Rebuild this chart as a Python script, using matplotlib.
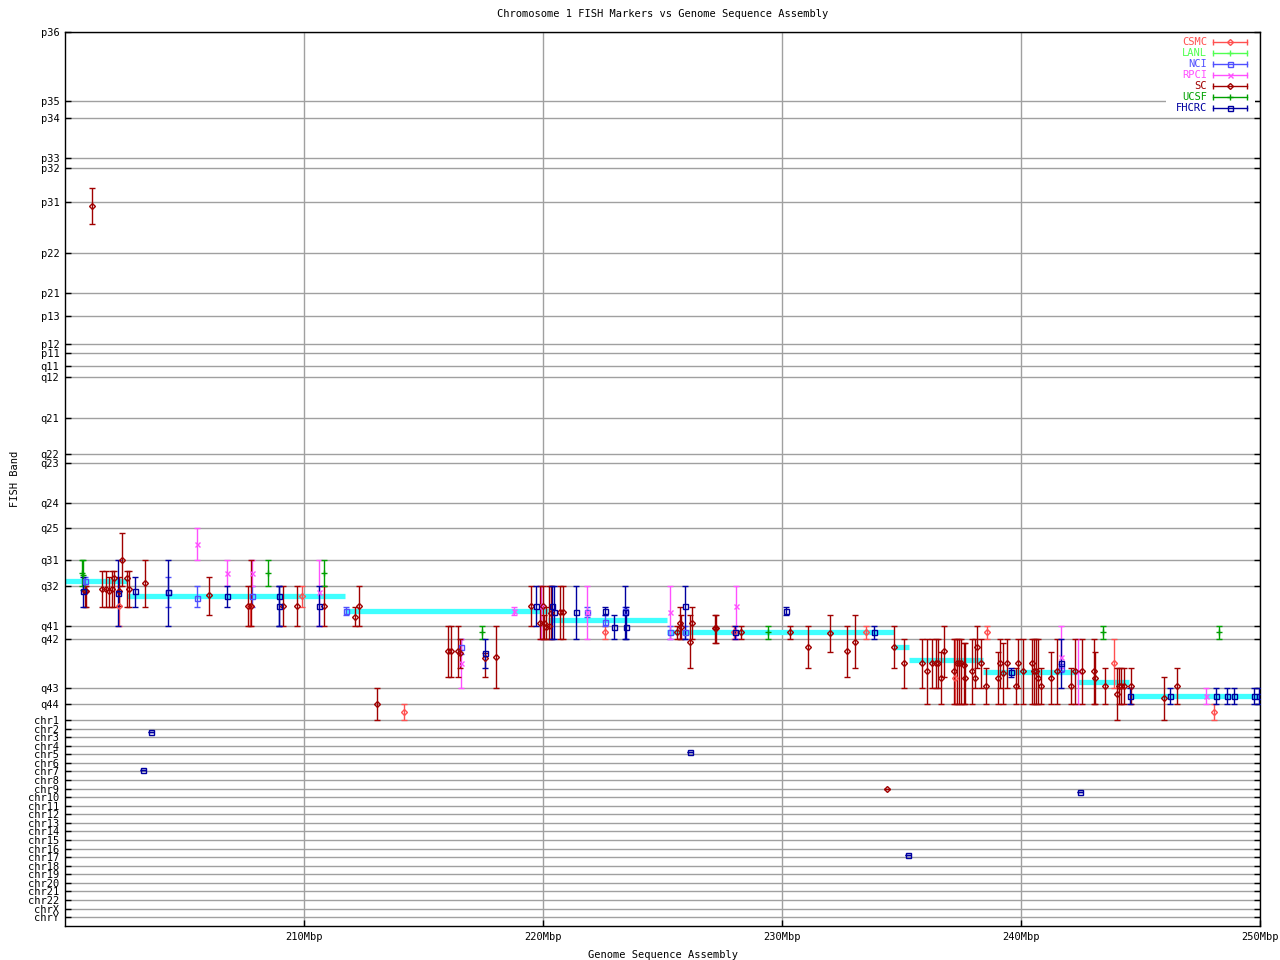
import matplotlib
matplotlib.use("Agg")
import matplotlib.pyplot as plt
import numpy as np
from matplotlib.patches import Rectangle

plt.rcParams["font.family"] = ["DejaVu Sans Mono"]

# FISH band axis (ideogram position of each band, chart scale)
band_labels = ["p36", "p35", "p34", "p33", "p32", "p31", "p22", "p21", "p13", "p12",
               "p11", "q11", "q12", "q21", "q22", "q23", "q24", "q25", "q31", "q32",
               "q41", "q42", "q43", "q44"]
band_pos = [32, 101, 118, 158, 168, 202, 253, 293, 316, 344,
            353, 366, 377, 418, 454, 463, 503, 528, 560, 586,
            626, 639, 688, 704]
chr_labels = ["chr1", "chr2", "chr3", "chr4", "chr5", "chr6", "chr7", "chr8", "chr9",
              "chr10", "chr11", "chr12", "chr13", "chr14", "chr15", "chr16", "chr17",
              "chr18", "chr19", "chr20", "chr21", "chr22", "chrX", "chrY"]
chr_pos = [720, 729, 737, 746, 754, 763, 771, 780, 789, 797, 806, 814,
           823, 831, 840, 849, 857, 866, 874, 883, 891, 900, 909, 917]

x_ticks = [210, 220, 230, 240, 250]

# sequence assembly band assignment (cyan steps)
cyan_start = [200.0, 202.6, 211.7, 220.2, 225.2, 234.7, 235.3, 238.4, 242.35, 244.5]
cyan_end = [202.6, 211.7, 220.2, 225.2, 234.7, 235.3, 238.4, 242.35, 244.5, 250.0]
cyan_band = [581, 596, 611, 620, 632, 647, 660, 672, 682, 696]

# markers per lab: (Mbp, band centre, band low, band high)
csmc = [(202.26, 606, 586, 626), (207.72, 606, 606, 626), (209.91, 596, 586, 607),
        (214.17, 712, 704, 720), (222.58, 632, 626, 639), (227.97, 632, 626, 639),
        (233.53, 632, 626, 639), (237.25, 678, 639, 704), (238.59, 632, 626, 639),
        (243.88, 663, 639, 688), (248.08, 712, 704, 720)]
lanl = []
nci = [(200.84, 581, 577, 586), (204.31, 592, 577, 607), (205.52, 598, 586, 607),
       (207.82, 596, 586, 607), (211.75, 611, 607, 615), (216.56, 647, 639, 654),
       (221.82, 612, 607, 617), (222.58, 622, 615, 626), (223.45, 611, 607, 615),
       (225.33, 632, 626, 639), (225.96, 632, 626, 639), (241.68, 668, 664, 672)]
rpci = [(205.52, 544, 528, 560), (206.77, 573, 560, 586), (207.82, 573, 560, 586),
        (210.62, 592, 560, 626), (218.77, 611, 607, 615), (216.56, 663, 639, 688),
        (219.90, 606, 586, 639), (221.82, 612, 586, 639), (225.33, 612, 586, 639),
        (228.09, 606, 586, 639), (241.68, 657, 626, 668), (242.39, 671, 639, 704),
        (247.74, 696, 688, 704)]
sc = [(201.13, 206, 188, 224), (200.84, 591, 586, 607), (200.88, 591, 586, 607),
      (201.55, 589, 571, 607), (201.71, 589, 571, 607), (201.84, 591, 577, 607),
      (201.96, 589, 571, 607), (202.05, 578, 571, 607), (202.26, 591, 577, 606),
      (202.38, 560, 533, 586), (202.59, 578, 571, 607), (202.68, 589, 571, 607),
      (203.34, 583, 560, 607), (206.02, 595, 577, 615), (207.78, 606, 560, 626),
      (207.65, 606, 586, 626), (209.11, 606, 586, 626), (209.70, 606, 586, 626),
      (210.83, 606, 586, 626), (212.12, 617, 607, 626), (212.29, 606, 586, 626),
      (213.04, 704, 688, 720), (216.01, 651, 626, 677), (216.14, 651, 626, 677),
      (216.43, 651, 626, 677), (216.51, 653, 639, 668), (217.56, 658, 653, 677),
      (218.02, 657, 626, 688), (219.48, 606, 586, 626), (219.86, 623, 586, 639),
      (219.98, 606, 586, 639), (220.03, 623, 615, 639), (220.11, 627, 607, 639),
      (220.23, 626, 586, 639), (220.32, 613, 586, 639), (220.69, 612, 586, 639),
      (220.82, 612, 586, 639), (225.59, 632, 626, 639), (225.75, 623, 607, 639),
      (225.79, 627, 615, 639), (226.13, 642, 615, 668), (226.25, 623, 607, 639),
      (227.18, 628, 615, 643), (227.24, 628, 615, 643), (228.30, 632, 626, 639),
      (230.35, 632, 626, 639), (231.10, 647, 626, 668), (232.02, 633, 615, 652),
      (232.73, 651, 626, 677), (233.07, 642, 615, 668), (234.41, 789, 789, 789),
      (234.70, 647, 626, 668), (235.12, 663, 639, 688), (235.87, 663, 639, 688),
      (236.08, 671, 639, 704), (236.29, 663, 639, 688), (236.45, 663, 639, 688),
      (236.54, 663, 639, 688), (236.66, 678, 652, 704), (236.79, 651, 626, 677),
      (237.21, 671, 639, 704), (237.33, 663, 639, 704), (237.42, 663, 639, 704),
      (237.50, 663, 639, 704), (237.63, 665, 643, 704), (237.66, 678, 643, 704),
      (237.96, 671, 639, 704), (238.09, 678, 639, 688), (238.17, 647, 626, 668),
      (238.34, 663, 639, 688), (238.55, 686, 668, 704), (239.05, 678, 652, 704),
      (239.13, 663, 639, 688), (239.26, 673, 643, 704), (239.42, 663, 639, 688),
      (239.80, 686, 668, 704), (239.88, 663, 639, 688), (240.09, 671, 639, 704),
      (240.47, 663, 639, 704), (240.55, 671, 639, 704), (240.64, 671, 639, 704),
      (240.72, 678, 639, 704), (240.84, 686, 668, 704), (241.26, 678, 652, 704),
      (241.51, 671, 639, 704), (242.10, 686, 668, 704), (242.27, 671, 639, 704),
      (242.56, 671, 639, 704), (243.06, 671, 639, 704), (243.10, 678, 652, 704),
      (243.52, 686, 668, 704), (244.02, 694, 668, 720), (244.10, 686, 668, 704),
      (244.19, 686, 668, 704), (244.31, 686, 668, 704), (244.61, 686, 668, 704),
      (245.99, 698, 677, 720), (246.53, 686, 668, 704)]
ucsf = [(200.71, 573, 560, 586), (200.75, 575, 560, 590), (208.49, 573, 560, 586),
        (210.83, 573, 560, 586), (217.43, 632, 626, 639), (229.43, 632, 626, 639),
        (243.44, 632, 626, 639), (248.29, 632, 626, 639)]
fhcrc = [(200.75, 591, 577, 607), (202.22, 593, 560, 626), (202.93, 591, 577, 607),
         (204.31, 592, 560, 626), (206.77, 596, 586, 607), (208.95, 596, 586, 626),
         (208.95, 606, 586, 626), (210.62, 606, 586, 626), (217.56, 653, 639, 668),
         (219.69, 606, 586, 626), (220.36, 606, 586, 639), (220.44, 612, 586, 639),
         (221.36, 612, 586, 639), (222.58, 611, 607, 615), (222.99, 627, 615, 639),
         (223.45, 612, 586, 639), (223.49, 627, 607, 639), (225.96, 606, 586, 639),
         (228.05, 632, 626, 639), (230.18, 611, 607, 615), (233.86, 632, 626, 639),
         (239.59, 672, 668, 677), (241.68, 663, 639, 688), (244.56, 696, 688, 704),
         (246.24, 696, 688, 704), (248.16, 696, 688, 704), (248.62, 696, 688, 704),
         (248.91, 696, 688, 704), (249.75, 696, 688, 704), (249.96, 696, 688, 704),
         (203.60, 732, 732, 732), (203.26, 770, 770, 770), (226.17, 752, 752, 752),
         (242.47, 792, 792, 792), (235.28, 855, 855, 855)]

labs = ["CSMC", "LANL", "NCI", "RPCI", "SC", "UCSF", "FHCRC"]
lab_data = [csmc, lanl, nci, rpci, sc, ucsf, fhcrc]
lab_colors = ["#ff5050", "#50ff50", "#5050ff", "#ff50ff", "#a00000", "#00a000", "#0000a0"]
lab_markers = ["D", "+", "s", "x", "D", "+", "s"]
lab_msize = [3.0, 4.0, 3.6, 3.6, 3.0, 4.0, 3.6]

fig = plt.figure(figsize=(12.8, 9.6), dpi=100)
ax = fig.add_axes([0.0508, 0.0354, 0.9336, 0.9312])

ax.hlines(cyan_band, cyan_start, cyan_end, color="#40ffff", lw=3.8, zorder=2)

for name, rows, col, mk, ms in zip(labs, lab_data, lab_colors, lab_markers, lab_msize):
    if not rows:
        continue
    arr = np.array(rows, dtype=float)
    x, yc, lo, hi = arr[:, 0], arr[:, 1], arr[:, 2], arr[:, 3]
    ax.errorbar(x, yc, yerr=[yc - lo, hi - yc], fmt=mk, ms=ms, mfc="none",
                mec=col, mew=1.0, ecolor=col, elinewidth=1.0, capsize=2.2,
                capthick=1.0, color=col, zorder=3)

ax.set_xlim(200, 250)
ax.set_ylim(926, 32)
ax.set_xticks(x_ticks)
ax.set_xticklabels([f"{t}Mbp" for t in x_ticks], fontsize=7.5)
ax.set_yticks(band_pos + chr_pos)
ax.set_yticklabels(band_labels + chr_labels, fontsize=7.5)
ax.tick_params(axis="both", direction="in", length=4.5, width=1, color="black",
               left=True, right=True, top=False, bottom=True, pad=4)
ax.grid(True, color="#a0a0a0", lw=1, zorder=0)
ax.set_axisbelow(True)
for sp in ax.spines.values():
    sp.set_color("black")
    sp.set_linewidth(1)

ax.set_title("Chromosome 1 FISH Markers vs Genome Sequence Assembly", fontsize=7.5, pad=11)
ax.set_xlabel("Genome Sequence Assembly", fontsize=7.5, labelpad=6)
ax.set_ylabel("FISH Band", fontsize=7.5, labelpad=6)

# key in the top right corner, gnuplot style
ax.add_patch(Rectangle((0.921, 0.908), 0.075, 0.0875, transform=ax.transAxes,
                       facecolor="white", edgecolor="none", zorder=4))
for i, (name, col, mk, ms) in enumerate(zip(labs, lab_colors, lab_markers, lab_msize)):
    yk = 0.9888 - i * 0.01228
    ax.text(0.9556, yk, name, color=col, fontsize=7.5, ha="right", va="center",
            transform=ax.transAxes, zorder=5)
    ax.plot([0.9607, 0.9891], [yk, yk], color=col, lw=1, marker="|", ms=4.5,
            mew=1, transform=ax.transAxes, zorder=5, clip_on=False)
    ax.plot([0.9749], [yk], color=col, marker=mk, ms=ms, mfc="none", mew=1,
            transform=ax.transAxes, zorder=6, clip_on=False)

fig.savefig("out.png", dpi=100)
